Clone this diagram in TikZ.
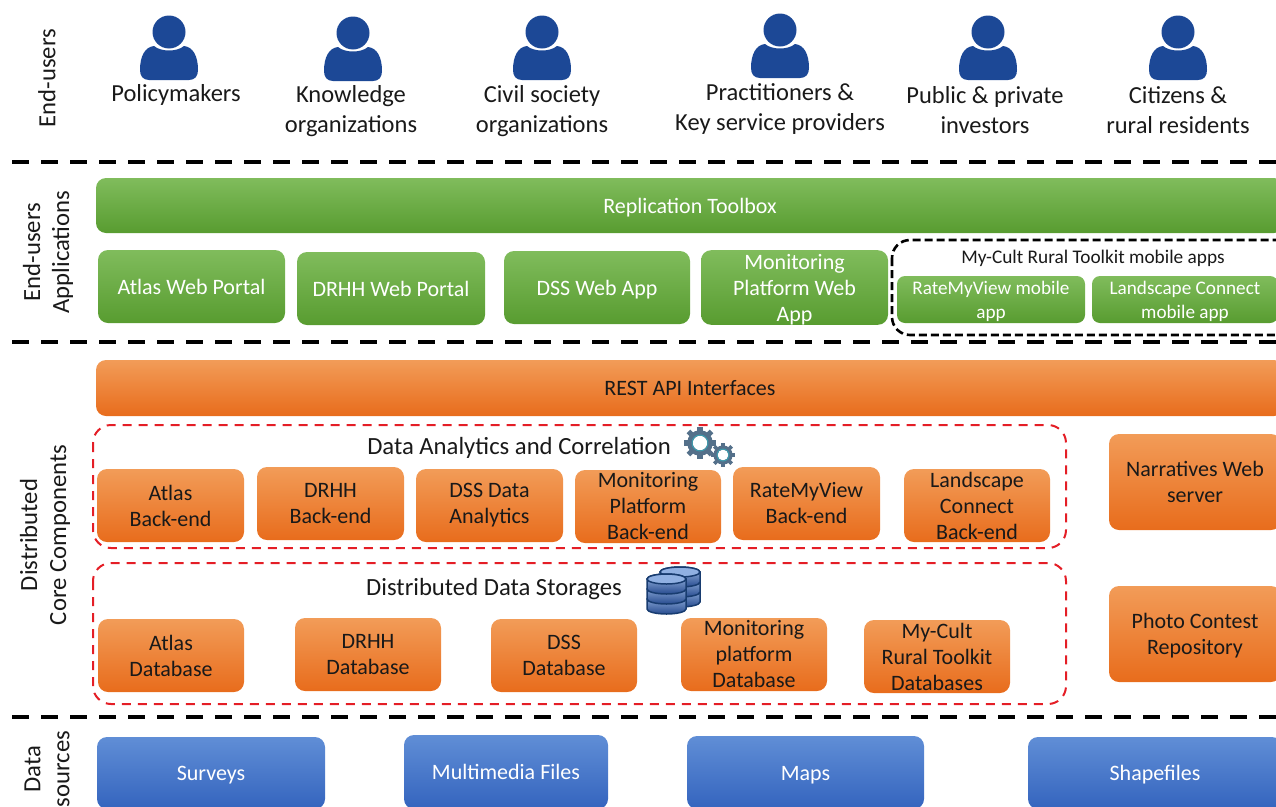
\documentclass[tikz,border=0pt]{standalone}
\usepackage{fontspec}
\setmainfont{Carlito}
\definecolor{gT}{RGB}{128,188,92}
\definecolor{gB}{RGB}{88,156,48}
\definecolor{oT}{RGB}{242,156,88}
\definecolor{oB}{RGB}{232,108,28}
\definecolor{bT}{RGB}{96,142,214}
\definecolor{bB}{RGB}{52,100,190}
\definecolor{ink}{RGB}{25,25,25}
\definecolor{person}{RGB}{28,72,150}
\definecolor{gear}{RGB}{84,112,138}
\definecolor{dbdark}{RGB}{24,60,112}
\definecolor{redline}{RGB}{228,30,38}
\newcommand{\dn}{\rule{0pt}{19pt}}
\tikzset{
  box/.style={rounded corners=10pt,inner sep=0pt,align=center},
  green box/.style={box,top color=gT,bottom color=gB,text=white,font=\fontsize{22}{26}\selectfont},
  small green/.style={box,top color=gT,bottom color=gB,text=white,font=\fontsize{19.2}{24}\selectfont,rounded corners=8pt},
  orange box/.style={box,top color=oT,bottom color=oB,text=ink,font=\fontsize{22}{26}\selectfont},
  blue box/.style={box,top color=bT,bottom color=bB,text=white,font=\fontsize{22}{26}\selectfont},
  sep line/.style={draw=black,line width=4pt,dash pattern=on 17pt off 12pt},
  red frame/.style={draw=redline,line width=2pt,dash pattern=on 9pt off 7pt,rounded corners=18pt},
  black frame/.style={draw=black,line width=2.6pt,dash pattern=on 8pt off 4pt,rounded corners=18pt},
  user label/.style={align=center,text=ink,font=\fontsize{24.5}{30}\selectfont},
  side label/.style={rotate=90,align=center,text=ink,font=\fontsize{24.7}{29}\selectfont},
  head label/.style={text=ink,font=\fontsize{24.7}{28}\selectfont},
}
% name, x0, y0, x1, y1, style, text
\newcommand{\bx}[7]{%
  \pgfmathsetmacro{\bxw}{#4-#2}\pgfmathsetmacro{\bxh}{#5-#3}%
  \pgfmathsetmacro{\bxx}{(#2+#4)/2}\pgfmathsetmacro{\bxy}{(#3+#5)/2}%
  \node[#6,minimum width=\bxw pt,minimum height=\bxh pt] (#1) at (\bxx,\bxy) {#7};}
% person at head centre
\newcommand{\persona}[2]{%
  \fill[person] (#1,#2) circle (16.5);
  \fill[person] (#1-29,#2+38) .. controls (#1-29,#2+24) and (#1-24,#2+15) .. (#1-15,#2+14)
     .. controls (#1-8,#2+20) and (#1+8,#2+20) .. (#1+15,#2+14)
     .. controls (#1+24,#2+15) and (#1+29,#2+24) .. (#1+29,#2+38)
     .. controls (#1+29,#2+44) and (#1+26,#2+48) .. (#1+20,#2+48)
     -- (#1-20,#2+48) .. controls (#1-26,#2+48) and (#1-29,#2+44) .. (#1-29,#2+38) -- cycle;}
% gear: x y radius
\newcommand{\gearshape}[3]{%
  \foreach \a in {0,45,...,315}{
    \draw[gear,line width=#3*0.32pt] (#1,#2) ++(\a:#3*0.75) -- ++(\a:#3*0.27);}
  \fill[gear] (#1,#2) circle (#3*0.8);
  \fill[white] (#1,#2) circle (#3*0.45);
  \draw[gear!70!cyan,line width=1pt] (#1,#2) circle (#3*0.5);}
% cylinder stack: x0, x1, ytop
\newcommand{\dbstack}[3]{%
  \pgfmathsetmacro{\cx}{(#1+#2)/2}\pgfmathsetmacro{\rx}{(#2-#1)/2}%
  \foreach \s in {2,1,0}{
    \pgfmathsetmacro{\yy}{#3+\s*10}
    \draw[dbdark,line width=1.5pt,top color=bT!60!white,bottom color=bB!75!black]
      (#1,\yy) -- (#1,\yy+10) arc[start angle=180,end angle=0,x radius=\rx,y radius=5] -- (#2,\yy)
      arc[start angle=0,end angle=-180,x radius=\rx,y radius=5] -- cycle;
  }
  \draw[dbdark,line width=1.5pt,fill=bT!70!white] (\cx,#3) ellipse[x radius=\rx,y radius=5];}
\begin{document}
\begin{tikzpicture}[x=1pt,y=-1pt]
\useasboundingbox (0,0) rectangle (1276,806);
\clip (0,0) rectangle (1276,806);
% persons
\persona{169}{32}\persona{353}{33}\persona{542}{32}\persona{780}{30}\persona{988}{32}\persona{1178}{32}
\node[user label] (u1) at (176,95) {Policymakers};
\node[user label] (u2) at (351,111) {Knowledge\\organizations};
\node[user label] (u3) at (542,111) {Civil society\\organizations};
\node[user label] (u4) at (780,109) {Practitioners \&\\Key service providers};
\node[user label] (u5) at (985,110) {Public \& private\\investors};
\node[user label] (u6) at (1178,110) {Citizens \&\\rural residents};
% side labels
\node[side label] (s1) at (47,78) {End-users};
\node[side label] (s2) at (48,252) {End-users\\Applications};
\node[side label] (s3) at (45,535) {Distributed\\Core Components};
\node[side label] (s4) at (47,769) {Data\\sources};
% separators
\coordinate (l1a) at (12,162);\coordinate (l1b) at (1276,162);
\coordinate (l2a) at (12,342);\coordinate (l2b) at (1276,342);
\coordinate (l3a) at (12,717);\coordinate (l3b) at (1276,717);
\draw[sep line] (l1a) -- (l1b);
\draw[sep line] (l2a) -- (l2b);
\draw[sep line] (l3a) -- (l3b);
% applications
\bx{rep}{96}{178}{1284}{233}{green box}{\dn Replication Toolbox}
\bx{a1}{98}{250}{285}{323}{green box}{Atlas Web Portal}
\bx{a2}{297}{252}{485}{325}{green box}{DRHH Web Portal}
\bx{a3}{504}{251}{690}{324}{green box}{\dn DSS Web App}
\bx{a4}{701}{251}{888}{324}{green box}{\dn Monitoring\\Platform Web\\App}
\draw[black frame] (892,240) rectangle (1300,335);
\node[text=ink,font=\fontsize{19.3}{22}\selectfont] (mc) at (1093,258) {My-Cult Rural Toolkit mobile apps};
\bx{a5}{897}{276}{1085}{323}{small green}{\rule{0pt}{17pt}RateMyView mobile\\app}
\bx{a6}{1092}{276}{1278}{323}{small green}{\rule{0pt}{17pt}Landscape Connect\\mobile app}
% core
\bx{rest}{96}{360}{1284}{416}{orange box}{REST API Interfaces}
\draw[red frame] (93,425) rectangle (1066,548);
\draw[red frame] (93,563) rectangle (1066,704);
\node[head label] (h1) at (519,448) {Data Analytics and Correlation};
\node[head label] (h2) at (494,589) {Distributed Data Storages};
\gearshape{700}{443}{16}
\gearshape{723}{455}{12}
\dbstack{660}{700}{572}
\dbstack{647}{686}{579}
\bx{b1}{97}{469}{244}{542}{orange box}{Atlas\\Back-end}
\bx{b2}{257}{467}{404}{540}{orange box}{DRHH\\Back-end}
\bx{b3}{416}{469}{563}{542}{orange box}{DSS Data\\Analytics}
\bx{b4}{575}{470}{721}{543}{orange box}{Monitoring\\Platform\\Back-end}
\bx{b5}{733}{467}{880}{540}{orange box}{RateMyView\\Back-end}
\bx{b6}{904}{469}{1050}{542}{orange box}{Landscape\\Connect\\Back-end}
\bx{d1}{98}{619}{244}{692}{orange box}{Atlas\\Database}
\bx{d2}{295}{618}{441}{691}{orange box}{DRHH\\Database}
\bx{d3}{491}{619}{637}{692}{orange box}{DSS\\Database}
\bx{d4}{681}{618}{827}{691}{orange box}{Monitoring\\platform\\Database}
\bx{d5}{864}{620}{1010}{693}{orange box}{My-Cult\\Rural Toolkit\\Databases}
\bx{n1}{1109}{434}{1281}{530}{orange box}{Narratives Web\\server}
\bx{n2}{1109}{586}{1281}{682}{orange box}{\dn Photo Contest\\Repository}
% data sources
\bx{c1}{97}{737}{325}{809}{blue box}{\dn Surveys}
\bx{c2}{404}{735}{608}{809}{blue box}{Multimedia Files}
\bx{c3}{687}{736}{924}{809}{blue box}{\dn Maps}
\bx{c4}{1028}{737}{1282}{809}{blue box}{\dn Shapefiles}
\end{tikzpicture}
\end{document}
